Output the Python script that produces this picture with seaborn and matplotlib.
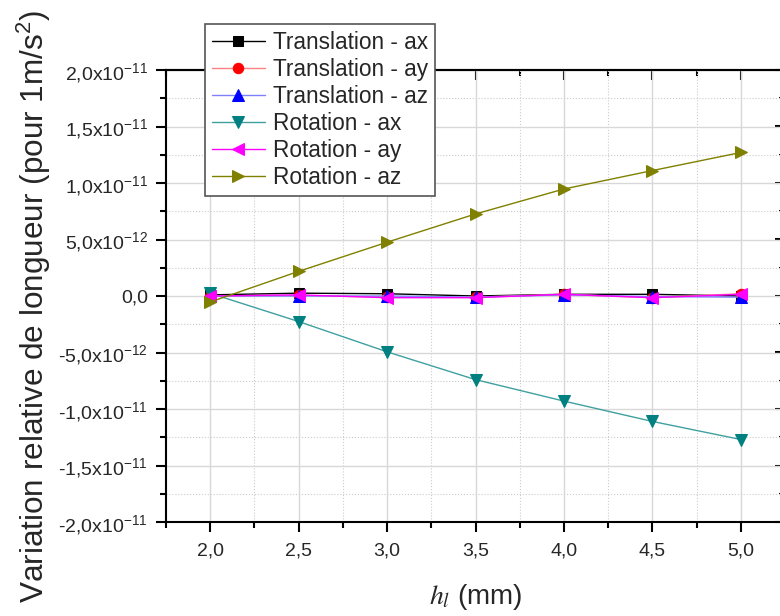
import matplotlib
matplotlib.use("Agg")
import matplotlib.pyplot as plt
import numpy as np
import pandas as pd
import seaborn as sns
from matplotlib.ticker import MultipleLocator

# values in units of 1e-12
h1 = [2.0, 2.5, 3.0, 3.5, 4.0, 4.5, 5.0]
trans_ax = [0.10, 0.25, 0.20, 0.00, 0.15, 0.15, 0.00]
trans_ay = [0.00, 0.05, -0.10, -0.10, 0.15, -0.15, 0.20]
trans_az = [0.00, 0.00, 0.00, -0.10, 0.10, -0.05, -0.10]
rot_ax = [0.24, -2.26, -4.94, -7.40, -9.30, -11.10, -12.70]
rot_ay = [0.00, 0.10, -0.15, -0.15, 0.15, -0.15, 0.15]
rot_az = [-0.53, 2.18, 4.76, 7.26, 9.47, 11.10, 12.70]

series_names = ["Translation - ax", "Translation - ay", "Translation - az",
                "Rotation - ax", "Rotation - ay", "Rotation - az"]
series_values = [trans_ax, trans_ay, trans_az, rot_ax, rot_ay, rot_az]

x_ticks = [2.0, 2.5, 3.0, 3.5, 4.0, 4.5, 5.0]
x_ticklabels = ["2,0", "2,5", "3,0", "3,5", "4,0", "4,5", "5,0"]
y_ticks = [-2.0e-11, -1.5e-11, -1.0e-11, -5.0e-12, 0.0,
           5.0e-12, 1.0e-11, 1.5e-11, 2.0e-11]
y_ticklabels = [r"-2,0x10$\mathregular{^{-11}}$", r"-1,5x10$\mathregular{^{-11}}$",
                r"-1,0x10$\mathregular{^{-11}}$", r"-5,0x10$\mathregular{^{-12}}$",
                "0,0",
                r"5,0x10$\mathregular{^{-12}}$", r"1,0x10$\mathregular{^{-11}}$",
                r"1,5x10$\mathregular{^{-11}}$", r"2,0x10$\mathregular{^{-11}}$"]

styles = [
    dict(marker="s", color="black", mfc="black", ms=7),
    dict(marker="o", color="#ff8080", mfc="red", ms=7.5),
    dict(marker="^", color="#8080ff", mfc="blue", ms=8.5),
    dict(marker="v", color="#40a0a0", mfc="#008080", ms=9),
    dict(marker="<", color="magenta", mfc="magenta", ms=9),
    dict(marker=">", color="#808000", mfc="#808000", ms=9),
]

sns.set_theme(style="white")
plt.rcParams["font.family"] = ["Liberation Sans", "DejaVu Sans"]
plt.rcParams["mathtext.fontset"] = "stix"

rows = []
for name, vals in zip(series_names, series_values):
    for x, v in zip(h1, vals):
        rows.append({"h1": x, "value": v * 1e-12, "series": name})
df = pd.DataFrame(rows)

fig = plt.figure(figsize=(7.8, 6.16), dpi=100)
ax = fig.add_axes([166 / 780, 94 / 616, 619 / 780, 452 / 616])

for name, st in zip(series_names, styles):
    d = df[df["series"] == name]
    sns.lineplot(data=d, x="h1", y="value", ax=ax, label=name,
                 color=st["color"], marker=st["marker"], markersize=st["ms"],
                 markerfacecolor=st["mfc"], markeredgecolor=st["mfc"],
                 lw=1.0)

ax.set_xlim(1.75, 5.25)
ax.set_ylim(-2.0e-11, 2.0e-11)
ax.set_xticks(x_ticks, x_ticklabels)
ax.set_yticks(y_ticks, y_ticklabels)
ax.xaxis.set_minor_locator(MultipleLocator(0.25))
ax.yaxis.set_minor_locator(MultipleLocator(2.5e-12))

ax.grid(True, which="major", color="#d8d8d8", lw=1.0, ls="-")
ax.grid(True, which="minor", color="#cccccc", lw=0.8, ls=":")
ax.set_axisbelow(True)

for s in ax.spines.values():
    s.set_color("black")
    s.set_linewidth(1.5)

# left / bottom: outward ticks
ax.tick_params(which="both", direction="out", color="black", width=1.5,
               labelsize=14, bottom=True, left=True, top=False, right=False)
ax.tick_params(which="major", length=7)
ax.tick_params(which="minor", length=4.5)
ax.tick_params(axis="x", which="both", pad=8)
ax.tick_params(axis="y", which="both", pad=6)

# top / right: inward ticks (Origin style)
secx = ax.secondary_xaxis("top")
secx.set_xticks(x_ticks)
secx.xaxis.set_minor_locator(MultipleLocator(0.25))
secx.tick_params(which="both", direction="in", width=1.5, top=True,
                 labeltop=False, color="black")
secx.tick_params(which="major", length=7)
secx.tick_params(which="minor", length=4)
secx.spines["top"].set_linewidth(1.5)
secy = ax.secondary_yaxis("right")
secy.set_yticks(y_ticks)
secy.yaxis.set_minor_locator(MultipleLocator(2.5e-12))
secy.tick_params(which="both", direction="in", width=1.5, right=True,
                 labelright=False, color="black")
secy.tick_params(which="major", length=7)
secy.tick_params(which="minor", length=4)

ax.set_xlabel(r"$h_{l}$ (mm)", fontsize=20, labelpad=16)
ax.set_ylabel(r"Variation relative de longueur (pour 1m/s$\mathregular{^2}$)",
              fontsize=22.7)
ax.yaxis.set_label_coords(-0.183, 0.476)

leg = ax.legend(loc="upper left", bbox_to_anchor=(205 / 780, 1 - 24 / 616),
                bbox_transform=fig.transFigure, borderaxespad=0,
                fontsize=16.3, frameon=True, fancybox=False, framealpha=1,
                edgecolor="#555555", handlelength=2.35, handletextpad=0.35,
                labelspacing=0.18, borderpad=0.3)
leg.get_frame().set_linewidth(1.2)

fig.savefig("out.png", dpi=100)
